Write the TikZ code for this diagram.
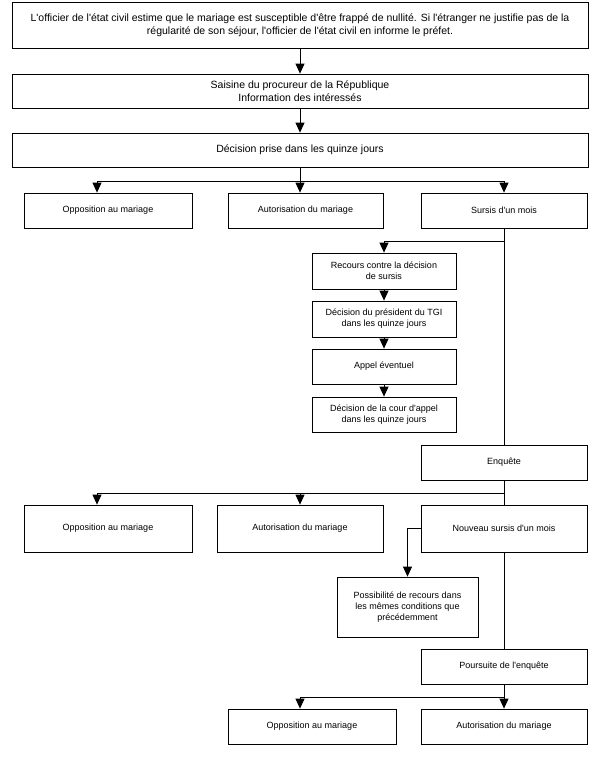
\documentclass[tikz,border=0pt]{standalone}
\usepackage{fontspec}
\setmainfont{Liberation Sans}[Ligatures=TeXOff]
\usetikzlibrary{arrows.meta}
\begin{document}
\begin{tikzpicture}[x=1pt,y=-1pt,
  line width=0.8pt,
  bigbox/.style={draw=black, line width=0.8pt, inner sep=0pt, align=center,
    font=\fontsize{10.5}{13.5}\selectfont, minimum width=576pt},
  smallbox/.style={draw=black, line width=0.8pt, inner sep=0pt, align=center,
    font=\fontsize{9}{11}\selectfont},
  arr/.style={-{Triangle[width=9pt,length=10pt]}},
  link/.style={draw=black}]
\useasboundingbox (0,0) rectangle (600,769);
\fill[white] (0,0) rectangle (600,769);

% top boxes
\node[bigbox, minimum height=46pt] (b1) at (300,25) {L'officier de l'état civil estime que le mariage est susceptible d'être frappé de nullité. Si l'étranger ne justifie pas de la\\régularité de son séjour, l'officier de l'état civil en informe le préfet.};
\node[bigbox, minimum height=34pt] (b2) at (300,91) {Saisine du procureur de la République\\Information des intéressés};
\node[bigbox, minimum height=34pt] (b3) at (300,150) {Décision prise dans les quinze jours};

% first row
\node[smallbox, minimum width=168pt, minimum height=35pt] (o1) at (108,210.5) {Opposition au mariage};
\node[smallbox, minimum width=155pt, minimum height=35pt] (a1) at (305.5,210.5) {Autorisation du mariage};
\node[smallbox, minimum width=166pt, minimum height=35pt] (s1) at (504,210.5) {Sursis d'un mois};

% recours chain
\node[smallbox, minimum width=144pt, minimum height=36pt] (r1) at (384,271) {Recours contre la décision\\de sursis};
\node[smallbox, minimum width=144pt, minimum height=36pt] (r2) at (384,319) {Décision du président du TGI\\dans les quinze jours};
\node[smallbox, minimum width=144pt, minimum height=35pt] (r3) at (384,366.5) {Appel éventuel};
\node[smallbox, minimum width=144pt, minimum height=35pt] (r4) at (384,414.5) {Décision de la cour d'appel\\dans les quinze jours};

% enquete
\node[smallbox, minimum width=166pt, minimum height=35pt] (e1) at (504,462.5) {Enquête};

% second row
\node[smallbox, minimum width=168pt, minimum height=47pt] (o2) at (108,528.5) {Opposition au mariage};
\node[smallbox, minimum width=166pt, minimum height=47pt] (a2) at (300,528.5) {Autorisation du mariage};
\node[smallbox, minimum width=166pt, minimum height=47pt] (n2) at (504,528.5) {Nouveau sursis d'un mois};
\node[smallbox, minimum width=141pt, minimum height=60pt] (p2) at (407.5,607) {Possibilité de recours dans\\les mêmes conditions que\\précédemment};

% poursuite
\node[smallbox, minimum width=166pt, minimum height=35pt] (q1) at (504,666.5) {Poursuite de l'enquête};
\node[smallbox, minimum width=168pt, minimum height=35pt] (o3) at (312,726.5) {Opposition au mariage};
\node[smallbox, minimum width=166pt, minimum height=35pt] (a3) at (504,726.5) {Autorisation du mariage};

% junction coordinates
\coordinate (h1L) at (97,181);
\coordinate (h1M) at (300,181);
\coordinate (h1R) at (504,181);
\coordinate (br1) at (504,241);
\coordinate (h2L) at (97,493);
\coordinate (h2M) at (300,493);
\coordinate (h2R) at (504,493);
\coordinate (h3L) at (300,697);
\coordinate (h3R) at (504,697);

% connectors
\draw[arr] (b1.south) -- (b2.north);
\draw[arr] (b2.south) -- (b3.north);
\draw (b3.south) -- (h1M);
\draw (h1L) -- (h1R);
\draw[arr] (h1L) -- (h1L |- o1.north);
\draw[arr] (h1M) -- (h1M |- a1.north);
\draw[arr] (h1R) -- (s1.north);

\draw (s1.south) -- (e1.north);
\draw[arr] (br1) -| (r1.north);
\draw[arr] (r1.south) -- (r2.north);
\draw[arr] (r2.south) -- (r3.north);
\draw[arr] (r3.south) -- (r4.north);

\draw (e1.south) -- (n2.north);
\draw (h2R) -- (h2L);
\draw[arr] (h2L) -- (h2L |- o2.north);
\draw[arr] (h2M) -- (a2.north);
\draw[arr] (n2.west) -| (p2.north);

\draw (n2.south) -- (q1.north);
\draw[arr] (q1.south) -- (a3.north);
\draw (h3R) -- (h3L);
\draw[arr] (h3L) -- (h3L |- o3.north);
\end{tikzpicture}
\end{document}
